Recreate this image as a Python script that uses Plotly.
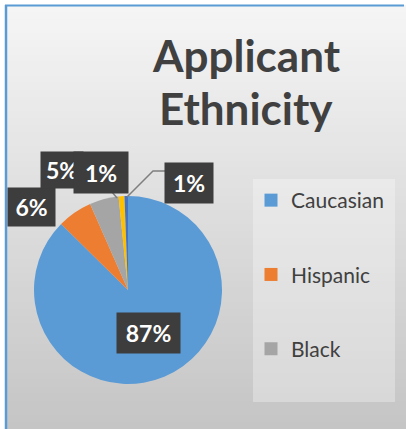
import plotly.graph_objects as go

# ---- data ----
categories = ["Caucasian", "Hispanic", "Black", "Asian", "Other"]
values = [87.4, 6.0, 5.0, 1.0, 0.6]
colors = ["#5B9BD5", "#ED7D31", "#A5A5A5", "#FFC000", "#4472C4"]
legend_shown = ["Caucasian", "Hispanic", "Black"]
title_lines = ["Applicant", "Ethnicity"]

W, H = 406, 429
def px(x): return x / W
def py(y): return 1 - y / H

total = sum(values)
pct = [f"{round(v / total * 100)}%" for v in values]

fig = go.Figure()
fig.add_trace(go.Pie(
    labels=categories, values=values, sort=False, direction="clockwise", rotation=0,
    marker=dict(colors=colors, line=dict(width=0)),
    textinfo="none", hoverinfo="label+percent", showlegend=False,
    domain=dict(x=[px(128 - 94), px(128 + 94)], y=[py(290 + 94), py(290 - 94)]),
))

# dummy traces for the legend (only first three visible in the reference)
for i, name in enumerate(legend_shown):
    fig.add_trace(go.Scatter(
        x=[None], y=[None], mode="markers", name=name, legendgroup=name,
        marker=dict(symbol="square", size=13, color=colors[categories.index(name)]),
    ))

shapes = []
# background gradient (each band runs to the bottom so no seams appear)
n = 60
top, bot = 5, H
for i in range(n):
    y0 = top + (bot - top) * i / n
    t = i / (n - 1)
    c = int(round(245 - t * 48))
    shapes.append(dict(type="rect", xref="paper", yref="paper", x0=px(5), x1=1, y0=0, y1=py(y0),
                       fillcolor=f"rgb({c},{c},{c})", line=dict(width=0), layer="below"))
# blue border (top + left)
shapes.append(dict(type="line", xref="paper", yref="paper", x0=px(5), x1=px(404), y0=py(5.5), y1=py(5.5),
                   line=dict(color="#5B9BD5", width=2)))
shapes.append(dict(type="line", xref="paper", yref="paper", x0=px(6), x1=px(6), y0=py(5), y1=0,
                   line=dict(color="#5B9BD5", width=2.5)))
# legend box
shapes.append(dict(type="rect", xref="paper", yref="paper", x0=px(253), x1=px(395), y0=py(402), y1=py(179),
                   fillcolor="rgba(255,255,255,0.3)", line=dict(width=0), layer="below"))
# leader lines
shapes.append(dict(type="path", xref="paper", yref="paper",
                   path=f"M {px(127)},{py(197)} L {px(153)},{py(171)} L {px(166)},{py(171)}",
                   line=dict(color="#7f7f7f", width=1.5)))
shapes.append(dict(type="line", xref="paper", yref="paper", x0=px(112), x1=px(117), y0=py(192), y1=py(198),
                   line=dict(color="#7f7f7f", width=1.5)))

annotations = []
# title
for i, line in enumerate(title_lines):
    annotations.append(dict(text=f"<b>{line}</b>", x=px(246), y=py(55 + i * 53), xref="paper", yref="paper",
                            showarrow=False, xanchor="center", yanchor="middle",
                            font=dict(family="Lato", size=44, color="#404040")))

# data labels (boxes)
label_pos = [(148, 333, 63, 40), (31, 207, 47, 38), (62, 170, 42, 36), (101, 172, 54, 41), (189, 183, 48, 40)]
for i in range(len(values)):
    cx, cy, w, h = label_pos[i]
    annotations.append(dict(text=f"<b>{pct[i]}</b>", x=px(cx), y=py(cy), xref="paper", yref="paper",
                            showarrow=False, xanchor="center", yanchor="middle", width=w, height=h,
                            bgcolor="#3d3d3d", borderpad=0,
                            font=dict(family="Lato", size=23, color="white")))

fig.update_layout(
    width=W, height=H, margin=dict(l=0, r=0, t=0, b=0),
    paper_bgcolor="white", plot_bgcolor="rgba(0,0,0,0)",
    xaxis=dict(visible=False), yaxis=dict(visible=False),
    shapes=shapes, annotations=annotations,
    legend=dict(x=px(251), y=py(180), xanchor="left", yanchor="top", bgcolor="rgba(0,0,0,0)",
                font=dict(family="Lato", size=21, color="#404040"), tracegroupgap=44,
                traceorder="grouped", itemclick=False),
)
fig.write_html("out.html")
